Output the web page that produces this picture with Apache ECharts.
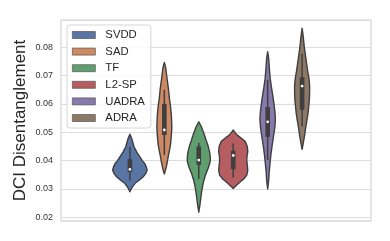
<!DOCTYPE html>
<html><head><meta charset="utf-8">
<script src="https://cdn.jsdelivr.net/npm/echarts@6/dist/echarts.min.js"></script>
<style>html,body{margin:0;padding:0;background:#fff}#c{width:390px;height:241px}</style>
</head><body><div id="c"></div>
<script>
// ---- data ----
const categories = ['SVDD', 'SAD', 'TF', 'L2-SP', 'UADRA', 'ADRA'];
const colors = ['#5875a4', '#cc8963', '#5f9e6e', '#b55d60', '#857aab', '#8d7866'];
const yTickLabels = ['0.02', '0.03', '0.04', '0.05', '0.06', '0.07', '0.08'];

// violin density profiles: [value, half-width (in category units)]
const svddProfile = [[0.0493,0],[0.0475,0.06],[0.0449,0.12],[0.0430,0.20],[0.0413,0.29],[0.0400,0.36],[0.0390,0.43],[0.0378,0.475],[0.0367,0.50],[0.0355,0.465],[0.0342,0.38],[0.0330,0.26],[0.0320,0.15],[0.0305,0.06],[0.0290,0]];
const sadProfile = [[0.0746,0],[0.0725,0.044],[0.0700,0.067],[0.0656,0.117],[0.0620,0.146],[0.0596,0.175],[0.0560,0.204],[0.0520,0.218],[0.0490,0.204],[0.0460,0.183],[0.0443,0.16],[0.0420,0.122],[0.0396,0.087],[0.0375,0.052],[0.0353,0]];
const tfProfile = [[0.0537,0],[0.0520,0.073],[0.0490,0.166],[0.0470,0.218],[0.0455,0.262],[0.0430,0.315],[0.0410,0.335],[0.0396,0.33],[0.0375,0.277],[0.0349,0.195],[0.0330,0.146],[0.0314,0.117],[0.0290,0.082],[0.0268,0.058],[0.0245,0.035],[0.0218,0]];
const l2spProfile = [[0.0508,0],[0.0500,0.044],[0.0490,0.117],[0.0478,0.248],[0.0467,0.35],[0.0450,0.408],[0.0432,0.422],[0.0415,0.40],[0.0400,0.393],[0.0385,0.408],[0.0365,0.422],[0.0349,0.393],[0.0335,0.306],[0.0322,0.175],[0.0312,0.087],[0.0302,0]];
const uadraProfile = [[0.0784,0],[0.0760,0.03],[0.0720,0.052],[0.0690,0.073],[0.0660,0.108],[0.0632,0.146],[0.0600,0.183],[0.0570,0.213],[0.0545,0.224],[0.0520,0.21],[0.0490,0.175],[0.0455,0.131],[0.0420,0.093],[0.0396,0.073],[0.0360,0.044],[0.0330,0.03],[0.0300,0]];
const adraProfile = [[0.0867,0],[0.0840,0.03],[0.0800,0.064],[0.0772,0.096],[0.0740,0.134],[0.0713,0.166],[0.0690,0.198],[0.0666,0.218],[0.0640,0.218],[0.0615,0.21],[0.0595,0.195],[0.0565,0.169],[0.0536,0.131],[0.0510,0.096],[0.0489,0.073],[0.0465,0.038],[0.0440,0]];

// inner box plot statistics
const whiskerLow  = [0.0330, 0.0420, 0.0335, 0.0340, 0.0402, 0.0520];
const q1          = [0.0360, 0.0490, 0.0385, 0.0370, 0.0484, 0.0579];
const median      = [0.0369, 0.0508, 0.0402, 0.0418, 0.0537, 0.0663];
const q3          = [0.0405, 0.0600, 0.0450, 0.0435, 0.0589, 0.0694];
const whiskerHigh = [0.0449, 0.0650, 0.0462, 0.0460, 0.0685, 0.0777];

const profiles = [svddProfile, sadProfile, tfProfile, l2spProfile, uadraProfile, adraProfile];

// ---- chart ----
const FONT = '"Liberation Sans", Arial, sans-serif';
const EDGE = '#3f3f3f';
const chart = echarts.init(document.getElementById('c'), null, {renderer: 'canvas'});

function violinSeries(i) {
  return {
    type: 'custom',
    name: categories[i],
    coordinateSystem: 'cartesian2d',
    itemStyle: {color: colors[i]},
    data: [[i]],
    silent: true,
    renderItem: function (params, api) {
      const idx = api.value(0);
      const prof = profiles[idx];
      const right = [], left = [];
      prof.forEach(function (p) {
        right.push(api.coord([idx + p[1], p[0]]));
        left.push(api.coord([idx - p[1], p[0]]));
      });
      const pts = right.concat(left.reverse());
      const cx = api.coord([idx, median[idx]])[0];
      const wTop = api.coord([idx, whiskerHigh[idx]])[1];
      const wBot = api.coord([idx, whiskerLow[idx]])[1];
      const bTop = api.coord([idx, q3[idx]])[1];
      const bBot = api.coord([idx, q1[idx]])[1];
      const my = api.coord([idx, median[idx]])[1];
      const bw = 4.6;
      return {
        type: 'group',
        children: [
          {type: 'polygon', shape: {points: pts, smooth: 0}, style: {fill: colors[idx], stroke: EDGE, lineWidth: 1.4, lineJoin: 'round'}},
          {type: 'line', shape: {x1: cx, y1: wTop, x2: cx, y2: wBot}, style: {stroke: EDGE, lineWidth: 1.5}},
          {type: 'rect', shape: {x: cx - bw / 2, y: bTop, width: bw, height: bBot - bTop}, style: {fill: EDGE}},
          {type: 'circle', shape: {cx: cx, cy: my, r: 1.4}, style: {fill: '#ffffff'}}
        ]
      };
    }
  };
}

chart.setOption({
  animation: false,
  backgroundColor: '#ffffff',
  grid: {left: 61, right: 19, top: 20, bottom: 20, show: true, borderColor: '#cccccc', borderWidth: 1, containLabel: false},
  xAxis: {
    type: 'value', min: -2, max: 7,
    axisLine: {show: false}, axisTick: {show: false}, axisLabel: {show: false}, splitLine: {show: false}
  },
  yAxis: {
    type: 'value', min: 0.0187, max: 0.0896, splitNumber: 7,
    name: 'DCI Disentanglement', nameLocation: 'middle', nameGap: 32, nameMoveOverlap: false,
    nameTextStyle: {fontSize: 17, fontFamily: FONT, color: '#262626'},
    axisLine: {show: false}, axisTick: {show: false},
    axisLabel: {
      fontSize: 9, fontFamily: FONT, color: '#333333', margin: 8,
      showMinLabel: false, showMaxLabel: false,
      formatter: function (v) {
        const s = v.toFixed(2);
        return yTickLabels.indexOf(s) >= 0 && Math.abs(v - parseFloat(s)) < 1e-6 ? s : '';
      }
    },
    splitLine: {show: true, lineStyle: {color: '#dddddd', width: 1.2}}
  },
  legend: {
    data: categories,
    orient: 'vertical', left: 67, top: 25,
    icon: 'rect', itemWidth: 23, itemHeight: 7, itemGap: 4.6,
    padding: [4, 6, 4, 5],
    borderColor: '#d6d6d6', borderWidth: 1, borderRadius: 3,
    backgroundColor: 'rgba(255,255,255,0.85)',
    itemStyle: {borderColor: '#555555', borderWidth: 0.7},
    textStyle: {fontSize: 11.3, fontFamily: FONT, color: '#262626', lineHeight: 12, padding: [0, 0, 0, 5]}
  },
  series: categories.map(function (c, i) { return violinSeries(i); })
});
</script>
</body></html>
